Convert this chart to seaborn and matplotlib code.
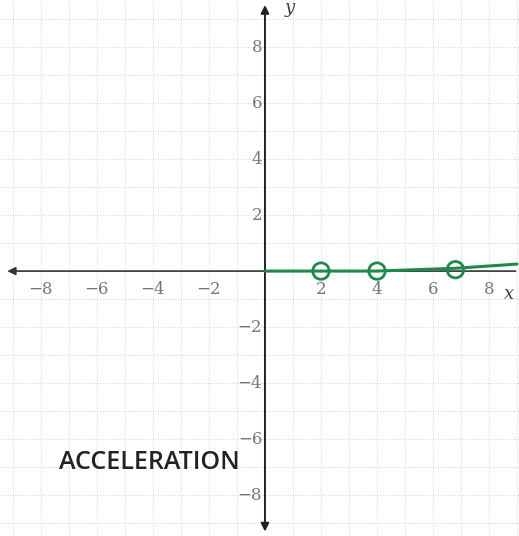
import matplotlib
matplotlib.use("Agg")
import matplotlib.pyplot as plt
import seaborn as sns
import pandas as pd

# hand-drawn acceleration line
line_x = [0, 2, 4, 6.8, 9]
line_y = [0, 0, 0, 0.1, 0.25]
# open circles on the line
circle_x = [2, 4, 6.8]
circle_y = [0, 0, 0.05]
tick_vals = [-8, -6, -4, -2, 2, 4, 6, 8]
title = "ACCELERATION"

sns.set_theme(style="white")
fig = plt.figure(figsize=(5.19, 5.36), dpi=100)
ax = fig.add_axes([0, 0, 1, 1])
ax.set_xlim(-9.46, 9.07)
ax.set_ylim(-9.46, 9.68)
ax.axis("off")

# faint dotted grid
for g in range(-9, 10):
    if g == 0:
        continue
    ax.axvline(g, color="#c8c8c8", lw=0.6, ls=(0, (1, 2)), zorder=0)
    ax.axhline(g, color="#c8c8c8", lw=0.6, ls=(0, (1, 2)), zorder=0)

# axes with arrows
ax.annotate("", xy=(-9.3, 0), xytext=(9.05, 0),
            arrowprops=dict(arrowstyle="-|>", color="#333333", lw=1.2, mutation_scale=12))
ax.annotate("", xy=(0, 9.6), xytext=(0, -9.4),
            arrowprops=dict(arrowstyle="<|-|>", color="#222222", lw=1.4, mutation_scale=12))

for v in tick_vals:
    lab = str(v).replace("-", "\u2212")
    ax.text(v, -0.35, lab, ha="center", va="top", fontsize=12,
            family="DejaVu Serif", color="#777777")
    ax.text(-0.1, v, lab, ha="right", va="center", fontsize=12,
            family="DejaVu Serif", color="#777777")
ax.text(0.7, 9.2, "y", fontsize=13, family="DejaVu Serif", style="italic", color="#444444")
ax.text(8.55, -1.0, "x", fontsize=13, family="DejaVu Serif", style="italic", color="#444444")

df = pd.DataFrame({"x": line_x, "y": line_y})
sns.lineplot(data=df, x="x", y="y", ax=ax, color="#1e8a4a", lw=2.2, zorder=3)
sns.scatterplot(x=circle_x, y=circle_y, ax=ax, s=140, facecolor="none",
                edgecolor="#1e8a4a", linewidth=2, zorder=4)
ax.set_xlabel("")
ax.set_ylabel("")

ax.text(-7.35, -6.85, title, fontsize=18, family="Open Sans", fontweight="semibold",
        color="#222222", va="center")

fig.savefig("out.png", dpi=100)
